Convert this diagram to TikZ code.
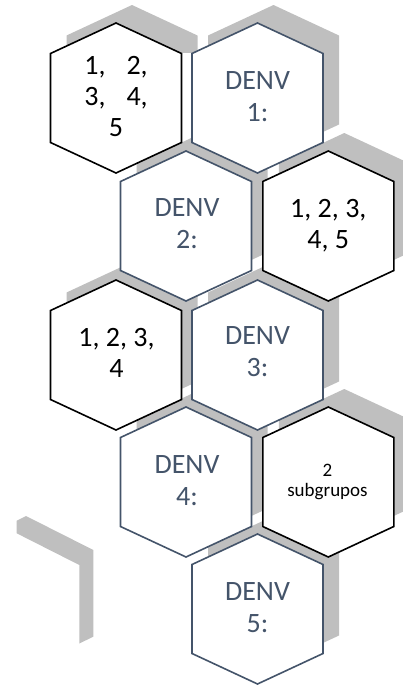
\documentclass[tikz,border=0pt]{standalone}
\usepackage{fontspec}
\setmainfont{Carlito}
\definecolor{slate}{HTML}{44546A}
\definecolor{hexgrey}{HTML}{BFBFBF}
\tikzset{
  hexshape/.pic={\path[pic actions] (0,-75) -- (65.5,-44.5) -- (65.5,44.5) -- (0,75) -- (-65.5,44.5) -- (-65.5,-44.5) -- cycle;},
  shadowhex/.style={fill=hexgrey},
  blackhex/.style={draw=black, fill=white, line width=1.6pt},
  bluehex/.style={draw=slate, fill=white, line width=1.6pt},
  numtext/.style={text=black, align=center, font=\fontsize{28}{31}\selectfont, inner sep=0pt},
  denvtext/.style={text=slate, align=center, font=\fontsize{28}{32}\selectfont, inner sep=0pt},
  smalltext/.style={text=black, align=center, font=\fontsize{19}{20}\selectfont, inner sep=0pt},
}
\begin{document}
\begin{tikzpicture}[x=1pt,y=-1pt]
\useasboundingbox (0,0) rectangle (403,686);
\clip (0,0) rectangle (403,686);
% decorative band bottom left
\fill[hexgrey] (26,516) -- (93.3,550) -- (93.3,636.7) -- (79.3,643.5) -- (79.3,565) -- (16.7,533.3) -- (16.7,520.7) -- cycle;
% shadows
\begin{scope}
\clip (0,0) rectangle (403,52);
\pic[shadowhex] at (132,80) {hexshape};
\end{scope}
\pic[shadowhex] at (273.5,80) {hexshape};
\pic[shadowhex] at (202,208) {hexshape};
\pic[shadowhex] at (344.3,208) {hexshape};
\pic[shadowhex] at (132,337) {hexshape};
\pic[shadowhex] at (273.5,337) {hexshape};
\pic[shadowhex] at (202,464) {hexshape};
\pic[shadowhex] at (344.3,464) {hexshape};
\pic[shadowhex] at (273.5,591) {hexshape};
% hexagons
\pic[blackhex] at (116,98) {hexshape};
\pic[bluehex] at (257.5,98) {hexshape};
\pic[bluehex] at (186,226) {hexshape};
\pic[blackhex] at (328.3,226) {hexshape};
\pic[blackhex] at (116,355) {hexshape};
\pic[bluehex] at (257.5,355) {hexshape};
\pic[bluehex] at (186,482) {hexshape};
\pic[blackhex] at (328.3,482) {hexshape};
\pic[bluehex] at (257.5,609) {hexshape};
% texts
\node[numtext] (ta) at (116,97) {1,\hspace{21pt}2,\\3,\hspace{21pt}4,\\5};
\node[denvtext] (tb) at (257.5,97) {DENV\\1:};
\node[denvtext] (tc) at (187,224) {DENV\\2:};
\node[numtext] (td) at (328.3,226) {1, 2, 3,\\4, 5};
\node[numtext] (te) at (116.5,353) {1, 2, 3,\\4};
\node[denvtext] (tf) at (257.5,352) {DENV\\3:};
\node[denvtext] (tg) at (187,480.5) {DENV\\4:};
\node[smalltext] (th) at (327.5,482) {2\\subgrupos};
\node[denvtext] (ti) at (257.5,608) {DENV\\5:};
\end{tikzpicture}
\end{document}
